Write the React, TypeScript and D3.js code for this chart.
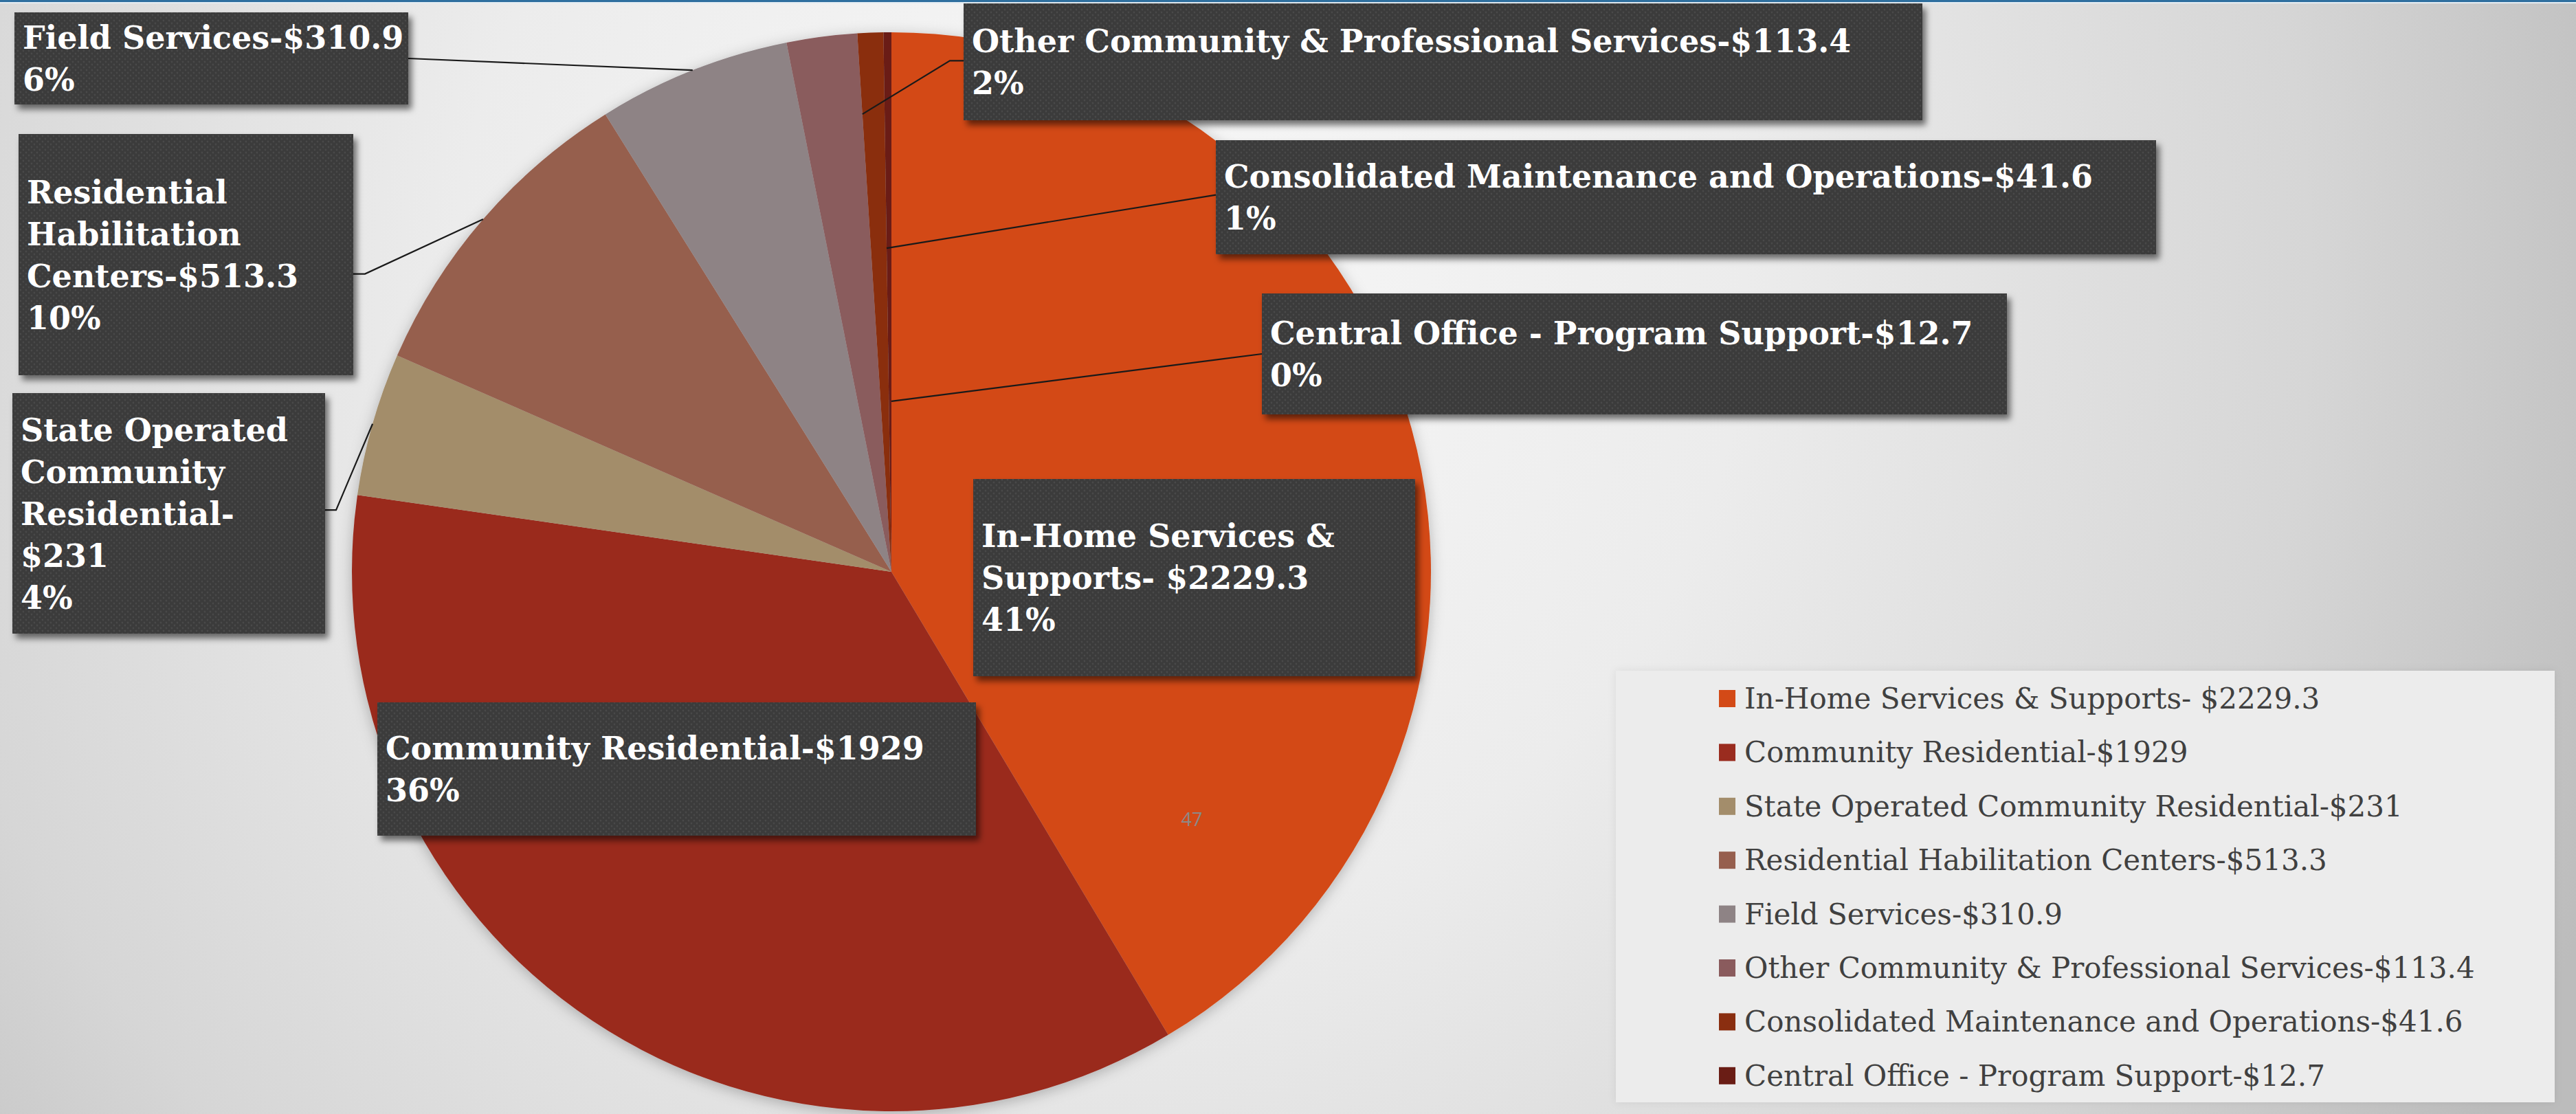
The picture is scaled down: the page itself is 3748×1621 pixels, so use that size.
import React from "react";
import * as d3 from "d3";

// ---------- data ----------
const categories = [
  "In-Home Services & Supports- $2229.3",
  "Community Residential-$1929",
  "State Operated Community Residential-$231",
  "Residential Habilitation Centers-$513.3",
  "Field Services-$310.9",
  "Other Community & Professional Services-$113.4",
  "Consolidated Maintenance and Operations-$41.6",
  "Central Office - Program Support-$12.7",
];
const values = [2229.3, 1929, 231, 513.3, 310.9, 113.4, 41.6, 12.7];
const labelLines = [
  ["In-Home Services &", "Supports- $2229.3"],
  ["Community Residential-$1929"],
  ["State Operated", "Community", "Residential-", "$231"],
  ["Residential", "Habilitation", "Centers-$513.3"],
  ["Field Services-$310.9"],
  ["Other Community & Professional Services-$113.4"],
  ["Consolidated Maintenance and Operations-$41.6"],
  ["Central Office - Program Support-$12.7"],
];
const colors = [
  "#D34A17",
  "#9A2C1F",
  "#A38D6B",
  "#965F4E",
  "#8E8385",
  "#8A5B5D",
  "#8A2E10",
  "#6A1D15",
];
const pageNumber = "47";

// ---------- layout ----------
const W = 3748;
const H = 1621;
const CX = 1297;
const CY = 832;
const R = 785;
const LABEL_FONT = 46;
const LINE_H = 61;
const CAP = 33;

type Box = {
  x: number; y: number; w: number; h: number;
  leader?: { side: "left" | "right"; fy: number; stub: number; mode: "mid" | "end"; rf: number };
};
const boxes: Box[] = [
  { x: 1416, y: 697, w: 643, h: 287 },
  { x: 549, y: 1022, w: 871, h: 194 },
  { x: 18, y: 572, w: 455, h: 350, leader: { side: "right", fy: 0.486, stub: 16, mode: "mid", rf: 1 } },
  { x: 27, y: 195, w: 487, h: 351, leader: { side: "right", fy: 0.58, stub: 17, mode: "mid", rf: 1 } },
  { x: 21, y: 18, w: 573, h: 134, leader: { side: "right", fy: 0.5, stub: 0, mode: "mid", rf: 1 } },
  { x: 1402, y: 5, w: 1395, h: 170, leader: { side: "left", fy: 0.49, stub: 20, mode: "end", rf: 0.85 } },
  { x: 1769, y: 204, w: 1368, h: 166, leader: { side: "left", fy: 0.48, stub: 0, mode: "end", rf: 0.6 } },
  { x: 1836, y: 427, w: 1084, h: 176, leader: { side: "left", fy: 0.5, stub: 0, mode: "end", rf: 0.316 } },
];

const legend = { x: 2351, y: 976, w: 1366, h: 628, sqX: 2501, textX: 2538, firstBase: 1031, step: 78.4, font: 42 };

export default function App() {
  const total = d3.sum(values);
  const pie = d3
    .pie<number>()
    .sort(null)
    .value((d) => d)
    .startAngle(0)
    .endAngle(2 * Math.PI);
  const arcs = pie(values);
  const arc = d3.arc<d3.PieArcDatum<number>>().innerRadius(0).outerRadius(R);

  const polar = (a: number, r: number) => [CX + r * Math.sin(a), CY - r * Math.cos(a)];

  return (
    <svg
      width={W}
      height={H}
      viewBox={`0 0 ${W} ${H}`}
      style={{ position: "absolute", left: 0, top: 0, display: "block" }}
    >
      <defs>
        <radialGradient id="bg" gradientUnits="userSpaceOnUse" cx={1600} cy={420} r={2350}>
          <stop offset="0" stopColor="#f8f8f8" />
          <stop offset="0.4" stopColor="#ececec" />
          <stop offset="0.75" stopColor="#d6d6d6" />
          <stop offset="1" stopColor="#bcbcbc" />
        </radialGradient>
        <pattern id="dots" width="8" height="8" patternUnits="userSpaceOnUse">
          <rect width="8" height="8" fill="#3a3a3a" />
          <circle cx="2" cy="2" r="1.4" fill="#4a4a4a" />
          <circle cx="6" cy="6" r="1.4" fill="#4a4a4a" />
        </pattern>
        <filter id="boxShadow" x="-10%" y="-20%" width="130%" height="150%">
          <feDropShadow dx="5" dy="7" stdDeviation="5" floodColor="#000" floodOpacity="0.55" />
        </filter>
        <filter id="pieShadow" x="-10%" y="-10%" width="120%" height="120%">
          <feDropShadow dx="0" dy="4" stdDeviation="10" floodColor="#000" floodOpacity="0.25" />
        </filter>
        <filter id="legShadow" x="-5%" y="-5%" width="110%" height="110%">
          <feDropShadow dx="0" dy="0" stdDeviation="6" floodColor="#000" floodOpacity="0.08" />
        </filter>
      </defs>

      <rect x={0} y={0} width={W} height={H} fill="url(#bg)" />
      <rect x={0} y={0} width={W} height={3} fill="#2f6f9f" />
      <rect x={0} y={3} width={W} height={2} fill="#e4edf3" />

      {/* legend panel */}
      <rect x={legend.x} y={legend.y} width={legend.w} height={legend.h} fill="#ececec" filter="url(#legShadow)" />

      {/* pie */}
      <g filter="url(#pieShadow)">
        <g transform={`translate(${CX},${CY})`}>
          {arcs.map((a, i) => (
            <path key={i} d={arc(a) || ""} fill={colors[i]} />
          ))}
        </g>
      </g>

      <text
        x={1734}
        y={1202}
        textAnchor="middle"
        fontFamily="'Open Sans', 'Noto Sans', sans-serif"
        fontSize={27}
        fill="#8a8a8a"
      >
        {pageNumber}
      </text>

      {/* leader lines */}
      {boxes.map((b, i) => {
        if (!b.leader) return null;
        const L = b.leader;
        const a = arcs[i];
        const ang = L.mode === "mid" ? (a.startAngle + a.endAngle) / 2 : a.endAngle;
        const [ex, ey] = polar(ang, R * L.rf);
        const sx = L.side === "right" ? b.x + b.w : b.x;
        const sy = b.y + b.h * L.fy;
        const mx = L.side === "right" ? sx + L.stub : sx - L.stub;
        return (
          <polyline
            key={"l" + i}
            points={`${sx},${sy} ${mx},${sy} ${ex},${ey}`}
            fill="none"
            stroke="#1a1a1a"
            strokeWidth={2.2}
          />
        );
      })}

      {/* label boxes */}
      {boxes.map((b, i) => {
        const lines = [...labelLines[i], `${Math.round((values[i] / total) * 100)}%`];
        const n = lines.length;
        const first = b.y + b.h / 2 - ((n - 1) * LINE_H) / 2 + CAP / 2;
        return (
          <g key={"b" + i}>
            <rect x={b.x} y={b.y} width={b.w} height={b.h} fill="url(#dots)" filter="url(#boxShadow)" />
            <text
              fontFamily="'DejaVu Serif', serif"
              fontWeight="bold"
              fontSize={LABEL_FONT}
              fill="#ffffff"
            >
              {lines.map((ln, j) => (
                <tspan key={j} x={b.x + 12} y={first + j * LINE_H}>
                  {ln}
                </tspan>
              ))}
            </text>
          </g>
        );
      })}

      {/* legend */}
      {categories.map((c, i) => {
        const base = legend.firstBase + i * legend.step;
        return (
          <g key={"lg" + i}>
            <rect x={legend.sqX} y={base - 27} width={24} height={25} fill={colors[i]} />
            <text
              x={legend.textX}
              y={base}
              fontFamily="'DejaVu Serif', serif"
              fontSize={legend.font}
              fill="#404040"
            >
              {c}
            </text>
          </g>
        );
      })}
    </svg>
  );
}
